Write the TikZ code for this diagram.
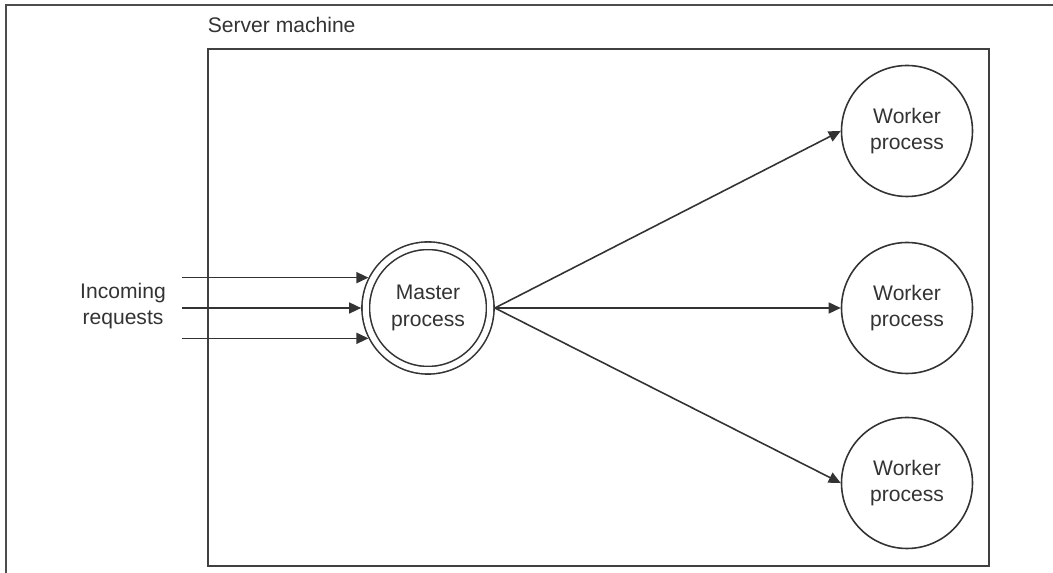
\documentclass[tikz,border=0pt]{standalone}
\usepackage{fontspec}
\setmainfont{Liberation Sans}
\usepackage{tikz}
\usetikzlibrary{positioning, arrows.meta, calc}

\begin{document}
\begin{tikzpicture}[>={Triangle[length=2.4mm, width=2.2mm]}, line width=0.9pt,
  every node/.style={text=black!80, font=\fontsize{12}{15}\selectfont},
  proc/.style={circle, draw=black!80, minimum size=2.62cm, inner sep=0pt, align=center}]
\useasboundingbox (0,0) rectangle (21.06,11.46);
% page frame
\draw[black!70, line width=1.1pt] (0.12,0) -- (0.12,11.36) -- (21.06,11.36);
% server box
\node[draw=black!75, line width=1.1pt, minimum width=15.62cm, minimum height=10.34cm, inner sep=0pt] (server) at (11.97,5.31) {};
\node[anchor=base west, inner sep=0pt] (title) at ([yshift=0.32cm]server.north west) {Server machine};
% master process
\node[proc, double, double distance=0.12cm, minimum size=2.49cm, outer sep=0.092cm] (master) at (8.56,5.30) {Master\\process};
% incoming requests
\node[align=center] (requests) at (2.46,5.34) {Incoming\\requests};
\coordinate (src) at (3.64,5.30);
\foreach \a in {153,180,207}{
  \draw[->, black!80] (master.\a -| src) -- (master.\a);
}
% workers
\foreach \i/\y in {1/8.84, 2/5.30, 3/1.80}{
  \node[proc] (worker\i) at (18.14,\y) {Worker\\process};
  \draw[->, black!80] (master.east) -- (worker\i.west);
}
\end{tikzpicture}
\end{document}
